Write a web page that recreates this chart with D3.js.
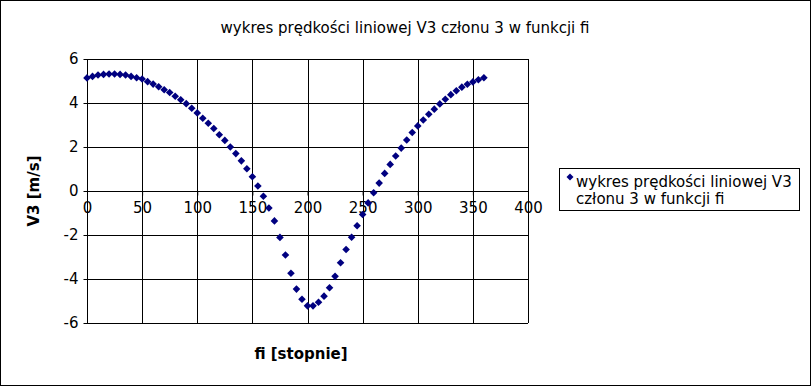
<!DOCTYPE html>
<html><head><meta charset="utf-8">
<script src="https://cdn.jsdelivr.net/npm/d3@7"></script>
<style>body{margin:0;background:#fff}svg{display:block;font-family:"DejaVu Sans",sans-serif}</style>
</head><body><svg id="c" width="811" height="386"></svg>
<script>
const title = "wykres prędkości liniowej V3 członu 3 w funkcji fi";
const xLabel = "fi [stopnie]";
const yLabel = "V3 [m/s]";
const legendLines = ["wykres prędkości liniowej V3", "członu 3 w funkcji fi"];
const xTicks = [0, 50, 100, 150, 200, 250, 300, 350, 400];
const yTicks = [-6, -4, -2, 0, 2, 4, 6];
const fi = [0,5,10,15,20,25,30,35,40,45,50,55,60,65,70,75,80,85,90,95,100,105,110,115,120,125,130,135,140,145,150,155,160,165,170,175,180,185,190,195,200,205,210,215,220,225,230,235,240,245,250,255,260,265,270,275,280,285,290,295,300,305,310,315,320,325,330,335,340,345,350,355,360];
const v3 = [5.14,5.21,5.27,5.30,5.32,5.32,5.30,5.27,5.21,5.15,5.09,4.97,4.86,4.74,4.60,4.48,4.31,4.15,3.97,3.76,3.55,3.31,3.08,2.84,2.56,2.30,2.00,1.70,1.37,1.01,0.65,0.23,-0.24,-0.77,-1.36,-2.11,-2.91,-3.74,-4.46,-4.92,-5.22,-5.22,-5.06,-4.78,-4.40,-3.88,-3.26,-2.66,-2.10,-1.58,-1.07,-0.54,-0.08,0.36,0.80,1.21,1.59,1.95,2.32,2.66,2.96,3.23,3.49,3.72,3.96,4.17,4.38,4.56,4.72,4.85,4.96,5.06,5.15];

const svg = d3.select("#c");
const W = 811, H = 386;
const FS = 15;
svg.append("rect").attr("x",0.5).attr("y",0.5).attr("width",W-1).attr("height",H-1)
  .attr("fill","#fff").attr("stroke","#000");

const x = d3.scaleLinear().domain([0,400]).range([87,528]);
const y = d3.scaleLinear().domain([-6,6]).range([323,59]);

svg.append("text").attr("x",405).attr("y",33).attr("text-anchor","middle")
  .attr("font-size",FS).attr("fill","#000").text(title);

// gridlines
const g = svg.append("g").attr("shape-rendering","crispEdges");
g.selectAll("line.v").data(xTicks).join("line")
  .attr("x1",d=>Math.round(x(d))+0.5).attr("x2",d=>Math.round(x(d))+0.5)
  .attr("y1",y(6)).attr("y2",y(-6)).attr("stroke","#000");
g.selectAll("line.h").data(yTicks).join("line")
  .attr("y1",d=>Math.round(y(d))+0.5).attr("y2",d=>Math.round(y(d))+0.5)
  .attr("x1",x(0)).attr("x2",x(400)).attr("stroke","#000");

const fmt = d => String(d);
// y axis
const ya = svg.append("g").attr("transform",`translate(${Math.round(x(0))+0.5},0)`)
  .call(d3.axisLeft(y).tickValues(yTicks).tickSize(4).tickPadding(5).tickFormat(fmt));
ya.select(".domain").remove();
ya.selectAll("line").attr("stroke","#000");
ya.selectAll("text").attr("font-size",FS).attr("font-family","DejaVu Sans").attr("fill","#000");

// x axis at zero
const xa = svg.append("g").attr("transform",`translate(0,${Math.round(y(0))+0.5})`)
  .call(d3.axisBottom(x).tickValues(xTicks).tickSize(4).tickPadding(7).tickFormat(fmt));
xa.select(".domain").remove();
xa.selectAll("line").attr("stroke","#000");
xa.selectAll("text").attr("font-size",FS).attr("font-family","DejaVu Sans").attr("fill","#000");

// axis titles
svg.append("text").attr("x",301).attr("y",359).attr("text-anchor","middle")
  .attr("font-size",FS).attr("font-weight","bold").text(xLabel);
svg.append("text").attr("transform","translate(39,191) rotate(-90)").attr("text-anchor","middle")
  .attr("font-size",FS).attr("font-weight","bold").text(yLabel);

// points
const diamond = r => `M0,${-r}L${r},0L0,${r}L${-r},0Z`;
svg.append("g").selectAll("path").data(fi.map((f,i)=>[f,v3[i]])).join("path")
  .attr("transform",d=>`translate(${x(d[0])},${y(d[1])})`)
  .attr("d",diamond(3.8)).attr("fill","#000080");

// legend
const lg = svg.append("g");
lg.append("rect").attr("x",559.5).attr("y",168.5).attr("width",240).attr("height",42)
  .attr("fill","#fff").attr("stroke","#000");
lg.append("path").attr("transform","translate(570,177)").attr("d",diamond(3.5)).attr("fill","#000080");
lg.selectAll("text").data(legendLines).join("text")
  .attr("x",576).attr("y",(d,i)=>187+i*17).attr("font-size",FS).attr("fill","#000").text(d=>d);
</script></body></html>
